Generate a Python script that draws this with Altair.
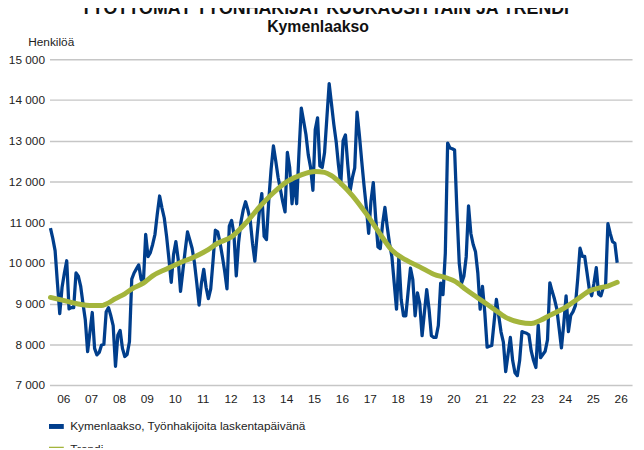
import altair as alt
import pandas as pd

# ---------------- data ----------------
series_name = "Kymenlaakso, Työnhakijoita laskentapäivänä"
trend_name = "Trendi"

# monthly values, Jan 2006 ... May 2026
tyonhakijat = [
    10850, 10600, 10300, 9500, 8750, 9400, 9750, 10050, 8870, 8900, 8900, 9750,      # 2006
    9670, 9430, 9000, 8600, 7820, 8300, 8780, 7900, 7740, 7800, 7980, 8000,          # 2007
    8800, 8900, 8700, 8460, 7460, 8220, 8340, 7900, 7700, 7750, 8060, 9600,          # 2008
    9750, 9850, 9950, 9600, 9500, 10700, 10150, 10250, 10450, 10700, 11200, 11640,   # 2009
    11350, 11100, 10650, 10100, 9520, 10200, 10520, 10080, 9300, 9800, 10300, 10760, # 2010
    10560, 10350, 10000, 9500, 8960, 9500, 9840, 9400, 9120, 9360, 10050, 10800,     # 2011
    10760, 10500, 10160, 9800, 9360, 10900, 11040, 10700, 9680, 10500, 11000, 11300, # 2012
    11500, 11300, 11050, 10480, 10040, 10700, 11290, 11700, 10650, 10570, 11540, 12300,  # 2013
    12870, 12500, 12100, 11800, 11500, 11250, 12710, 12340, 11450, 12100, 11450, 12700,  # 2014
    13800, 13480, 13150, 12650, 12340, 11780, 13270, 13560, 12380, 12340, 12700, 13550,  # 2015
    14400, 13900, 13400, 12980, 12400, 11930, 13000, 13140, 12410, 11760, 12090, 12330,  # 2016
    13700, 13140, 12500, 11900, 11360, 10720, 11520, 11970, 11120, 10390, 10350, 10960,  # 2017
    11360, 10880, 10470, 10150, 9500, 8860, 10150, 9100, 8700, 8700, 9300, 9870,     # 2018
    9590, 8700, 9260, 9000, 8210, 8780, 9340, 8860, 8210, 8170, 8170, 8460,          # 2019
    9500, 9220, 10230, 12940, 12820, 12800, 12770, 11280, 9990, 9500, 9670, 10150,   # 2020
    11400, 10720, 10450, 10270, 9750, 8860, 9420, 8780, 7930, 7950, 7970, 8540,      # 2021
    9100, 8700, 8300, 8050, 7330, 7750, 8170, 7600, 7300, 7230, 7600, 8310,          # 2022
    8290, 8270, 8230, 7830, 7600, 7430, 8470, 7670, 7750, 7830, 8110, 9510,          # 2023
    9300, 9110, 8870, 8390, 7910, 8500, 9190, 8310, 8710, 8800, 8950, 9600,          # 2024
    10360, 10160, 10160, 9760, 9350, 9190, 9500, 9880, 9230, 9190, 9390, 9430,       # 2025
    10960, 10720, 10520, 10480, 10000,                                              # 2026
]

# trend, read at selected months (month index from Jan 2006)
trend_month = [0, 6, 12, 18, 22, 24, 28, 32, 36, 40, 44, 50, 56, 61, 67, 72, 78, 84,
               90, 96, 102, 108, 114, 118, 121, 125, 130, 136, 142, 147, 153, 159,
               165, 171, 174, 179, 185, 191, 196, 202, 207, 211, 215, 221, 227, 232,
               236, 240, 244]
trend_value = [9150, 9070, 8990, 8950, 8950, 8990, 9120, 9240, 9390, 9500, 9680, 9850,
               10010, 10120, 10290, 10480, 10640, 10970, 11370, 11720, 12000, 12160,
               12240, 12220, 12140, 11950, 11650, 11200, 10700, 10310, 10070, 9900,
               9720, 9620, 9550, 9340, 9100, 8860, 8660, 8540, 8510, 8590, 8710, 8880,
               9110, 9310, 9380, 9430, 9520]

year_tick_months = [5.5 + 12 * i for i in range(21)]   # centre of each year 2006..2026
y_ticks = [7000, 8000, 9000, 10000, 11000, 12000, 13000, 14000, 15000]

main_title = "TYÖTTÖMÄT TYÖNHAKIJAT KUUKAUSITTAIN JA TRENDI"
sub_title = "Kymenlaakso"
y_title = "Henkilöä"

# ---------------- chart ----------------
FONT = "Liberation Sans"
BLUE = "#003E8C"
GREEN = "#A4B53C"
TXT = "#222222"

df_a = pd.DataFrame({"m": list(range(len(tyonhakijat))), "v": tyonhakijat, "s": series_name})
df_b = pd.DataFrame({"m": trend_month, "v": trend_value, "s": trend_name})

x_scale = alt.Scale(domain=[-0.425, 250.4], nice=False, zero=False)
y_scale = alt.Scale(domain=[7000, 15000], nice=False, zero=False)
color_scale = alt.Scale(domain=[series_name, trend_name], range=[BLUE, GREEN])

x_axis = alt.Axis(values=year_tick_months,
                  labelExpr="format(floor(datum.value/12) + 6, '02d')",
                  grid=False, domain=False, ticks=False, labelPadding=9,
                  labelFont=FONT, labelFontSize=12, labelColor=TXT,
                  labelFlush=False, labelOverlap=False, title=None)

y_axis = alt.Axis(values=y_ticks,
                  labelExpr="replace(format(datum.value, ',d'), ',', ' ')",
                  grid=True, gridColor="#c6c6c6", gridWidth=1.5,
                  domain=False, ticks=False, labelPadding=5,
                  labelFont=FONT, labelFontSize=12, labelColor=TXT,
                  labelOverlap=False,
                  title=y_title, titleAngle=0, titleAlign="left", titleBaseline="middle",
                  titleX=-22, titleY=-18, titleFont=FONT, titleFontSize=12,
                  titleFontWeight="normal", titleColor=TXT)

legend = alt.Legend(title=None, orient="none", legendX=-3, legendY=362,
                    direction="vertical", symbolType="stroke", symbolStrokeWidth=5,
                    symbolSize=225, labelFont=FONT, labelFontSize=12, labelColor=TXT,
                    labelLimit=0, rowPadding=3, padding=0, labelOffset=4)

line_a = alt.Chart(df_a).mark_line(strokeWidth=3.3, strokeJoin="round").encode(
    x=alt.X("m:Q", scale=x_scale, axis=x_axis),
    y=alt.Y("v:Q", scale=y_scale, axis=y_axis),
    color=alt.Color("s:N", scale=color_scale, legend=legend),
)

line_b = alt.Chart(df_b).mark_line(strokeWidth=5, interpolate="monotone", strokeCap="round").encode(
    x=alt.X("m:Q", scale=x_scale, axis=x_axis),
    y=alt.Y("v:Q", scale=y_scale, axis=y_axis),
    color=alt.Color("s:N", scale=color_scale, legend=legend),
)

title_layer = alt.Chart(pd.DataFrame({"t": [main_title]})).mark_text(
    font=FONT, fontSize=18, fontWeight="bold", align="center", baseline="alphabetic", color="#111111"
).encode(x=alt.value(279), y=alt.value(-46), text="t:N")

sub_layer = alt.Chart(pd.DataFrame({"t": [sub_title]})).mark_text(
    font=FONT, fontSize=16, fontWeight="bold", align="center", baseline="middle", color="#111111"
).encode(x=alt.value(272), y=alt.value(-33), text="t:N")

chart = alt.layer(line_a, line_b, title_layer, sub_layer).properties(
    width=590, height=330,
    autosize=alt.AutoSizeParams(type="none"),
    padding={"left": 42, "top": 49, "right": 4, "bottom": 61},
).configure_view(stroke=None)

chart.save("out.html", embed_options={"renderer": "svg", "actions": False})
